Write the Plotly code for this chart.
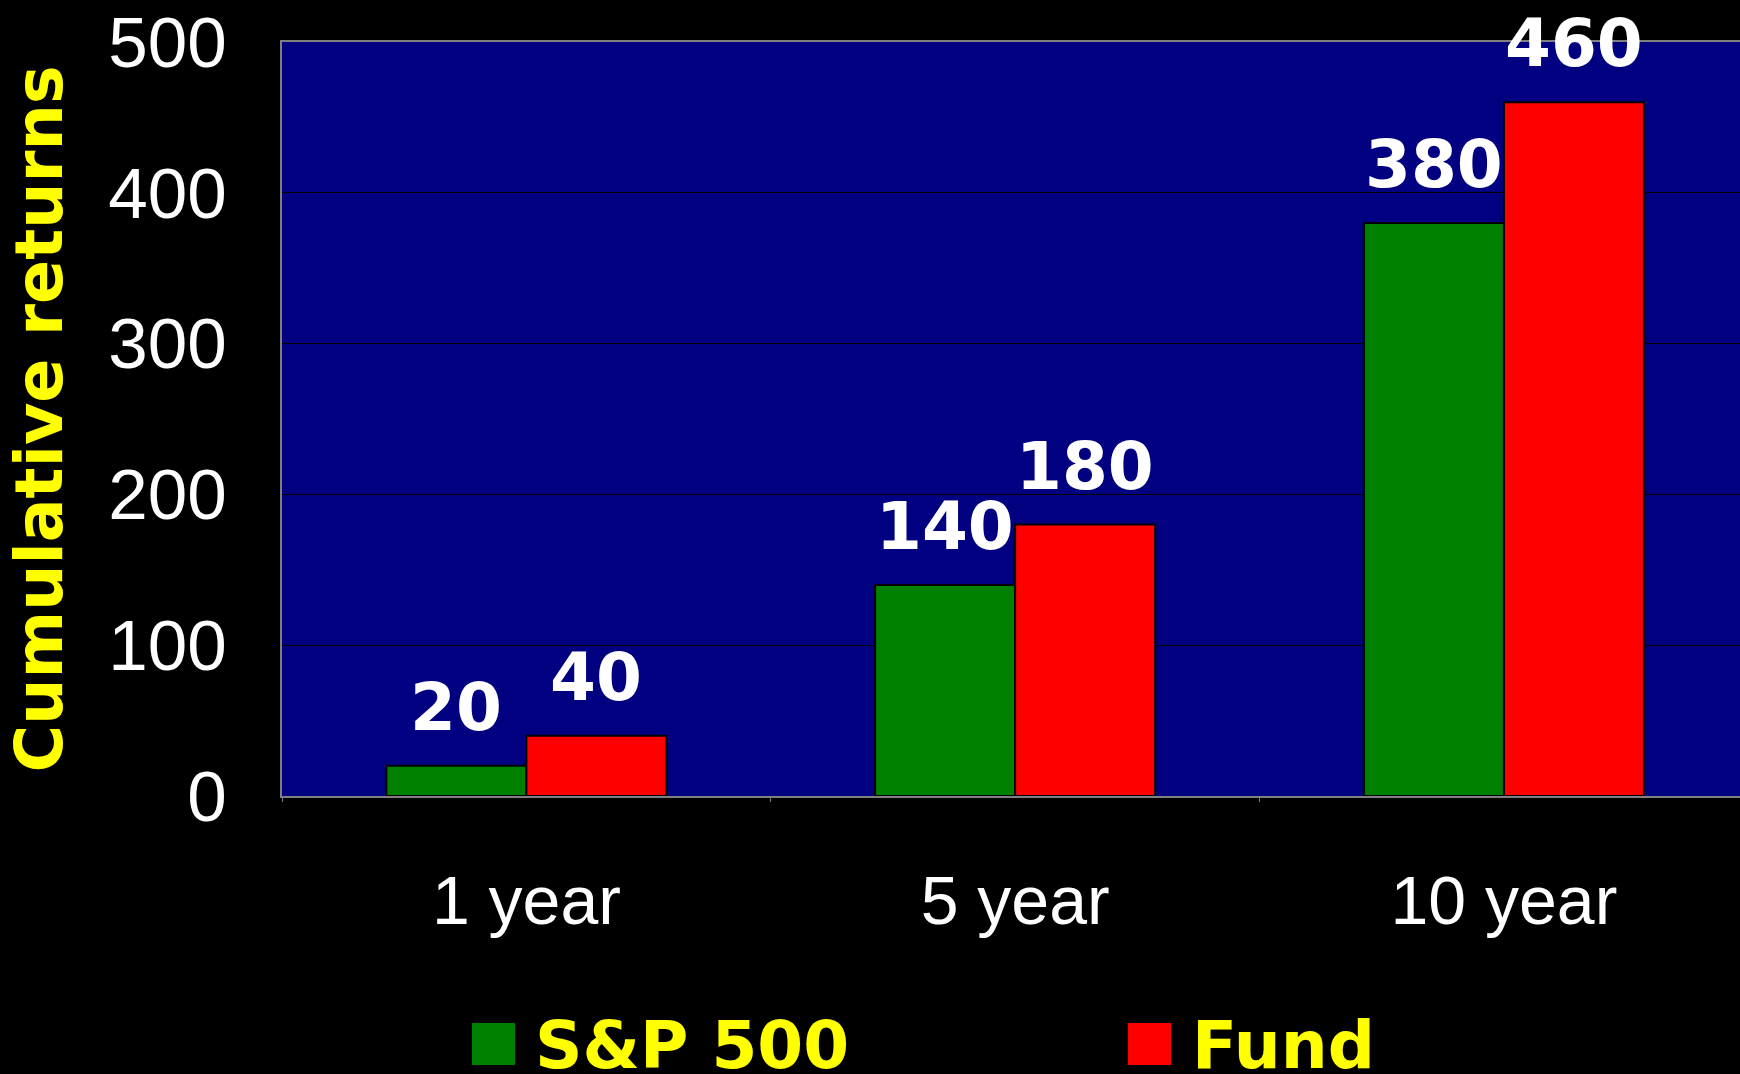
"""Cumulative returns: S&P 500 vs Fund, grouped bar chart."""

import plotly.graph_objects as go

# Data
periods = ["1 year", "5 year", "10 year"]
series_names = ["S&P 500", "Fund"]
sp500_returns = [20, 140, 380]
fund_returns = [40, 180, 460]
y_ticks = [0, 100, 200, 300, 400, 500]

colors = {"S&P 500": "#008000", "Fund": "#FF0000"}

W, H = 1740, 1074
M_L, M_R, M_T, M_B = 282, 0, 42, 278
PLOT_W = W - M_L - M_R
PLOT_H = H - M_T - M_B

BOLD = "DejaVu Sans"
PLAIN = "Liberation Sans"

fig = go.Figure()
for name, values in zip(series_names, [sp500_returns, fund_returns]):
    fig.add_trace(
        go.Bar(
            x=periods,
            y=values,
            name=name,
            marker={"color": colors[name], "line": {"color": "black", "width": 2}},
        )
    )

# value labels above each bar
bargap = 0.427
bar_px = (1 - bargap) / 2 * PLOT_W / 2.983
annotations = []
for i, values in enumerate([sp500_returns, fund_returns]):
    shift = (i - 0.5) * bar_px
    for period, v in zip(periods, values):
        annotations.append(
            dict(
                x=period,
                y=v,
                xref="x",
                yref="y",
                text=str(v),
                showarrow=False,
                xshift=shift,
                yshift=18,
                yanchor="bottom",
                font={"family": BOLD, "size": 66, "color": "white", "weight": "bold"},
            )
        )

# y axis title
annotations.append(
    dict(
        x=(-1 - M_L) / PLOT_W,
        y=0.5,
        xref="paper",
        yref="paper",
        text="Cumulative returns",
        textangle=-90,
        showarrow=False,
        xanchor="left",
        yanchor="middle",
        font={"family": BOLD, "size": 65, "color": "#FFFF00", "weight": "bold"},
    )
)

# hand-made legend (big swatches)
legend_items = [("S&P 500", 472, 536), ("Fund", 1128, 1193)]
shapes = []
for name, sq_x, txt_x in legend_items:
    shapes.append(
        dict(
            type="rect",
            xref="paper",
            yref="paper",
            x0=(sq_x - M_L) / PLOT_W,
            x1=(sq_x + 43 - M_L) / PLOT_W,
            y0=(PLOT_H + M_T - 1065) / PLOT_H,
            y1=(PLOT_H + M_T - 1023) / PLOT_H,
            fillcolor=colors[name],
            line={"width": 0},
        )
    )
    annotations.append(
        dict(
            x=(txt_x - 3 - M_L) / PLOT_W,
            y=(PLOT_H + M_T - 1045) / PLOT_H,
            xref="paper",
            yref="paper",
            text=name,
            showarrow=False,
            xanchor="left",
            yanchor="middle",
            font={"family": BOLD, "size": 66, "color": "#FFFF00", "weight": "bold"},
        )
    )

fig.update_layout(
    width=W,
    height=H,
    margin={"l": M_L, "r": M_R, "t": M_T, "b": M_B, "pad": 0},
    paper_bgcolor="black",
    plot_bgcolor="#000080",
    barmode="group",
    bargap=bargap,
    bargroupgap=0,
    showlegend=False,
    annotations=annotations,
    shapes=shapes,
)

fig.update_xaxes(
    range=[-0.5, 2.483],
    showgrid=False,
    showline=True,
    mirror=True,
    linecolor="#808080",
    linewidth=2,
    tickson="boundaries",
    ticks="outside",
    ticklen=4,
    tickcolor="#808080",
    ticklabelstandoff=44,
    tickfont={"family": PLAIN, "size": 68, "color": "white"},
)

fig.update_yaxes(
    range=[0, 500],
    tickvals=y_ticks,
    showgrid=True,
    gridcolor="black",
    gridwidth=1,
    zeroline=False,
    showline=True,
    linecolor="#808080",
    linewidth=2,
    ticks="",
    ticklabelstandoff=39,
    tickfont={"family": PLAIN, "size": 71, "color": "white"},
)

fig.write_html(
    "out.html",
    config={"displayModeBar": False},
    post_script="document.body.style.margin='0';document.body.style.background='black';",
)
